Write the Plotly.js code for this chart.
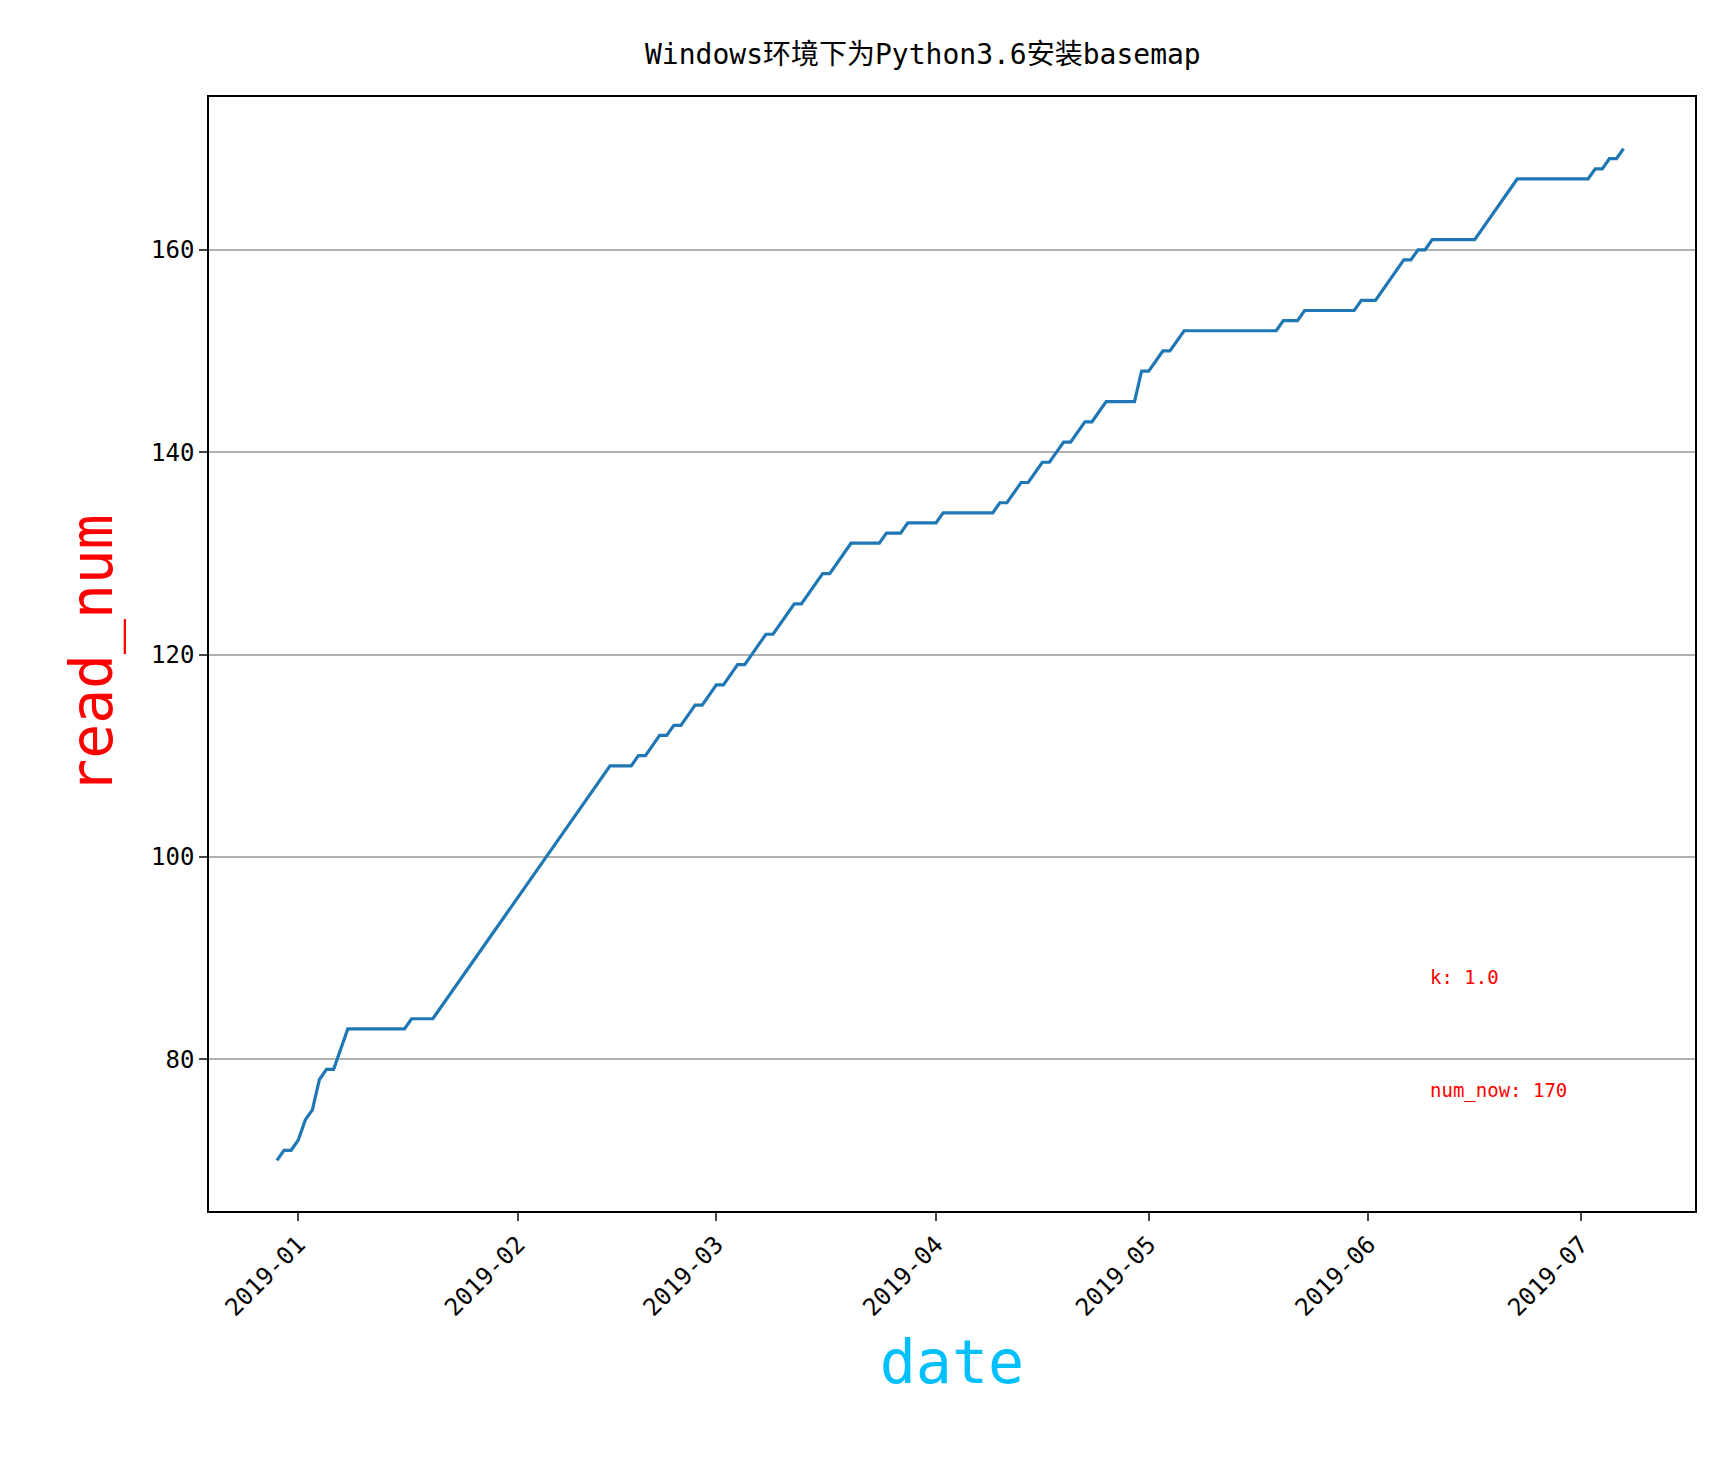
<!DOCTYPE html>
<html>
<head>
<meta charset="utf-8">
<script src="https://cdn.plot.ly/plotly-3.0.1.min.js"></script>
<style>body{margin:0;background:#fff}#chart{width:1725px;height:1477px}</style>
</head>
<body>
<div id="chart"></div>
<script>
// 阅读量 read_num 的转折点
const dates = [
  "2018-12-29","2018-12-30","2018-12-31","2019-01-01","2019-01-02","2019-01-03","2019-01-04",
  "2019-01-05","2019-01-06","2019-01-07","2019-01-08","2019-01-16","2019-01-17","2019-01-20",
  "2019-02-14","2019-02-17","2019-02-18","2019-02-19","2019-02-21","2019-02-22","2019-02-23",
  "2019-02-24","2019-02-26","2019-02-27","2019-03-01","2019-03-02","2019-03-04","2019-03-05",
  "2019-03-08","2019-03-09","2019-03-12","2019-03-13","2019-03-16","2019-03-17","2019-03-20",
  "2019-03-24","2019-03-25","2019-03-27","2019-03-28","2019-04-01","2019-04-02","2019-04-09",
  "2019-04-10","2019-04-11","2019-04-13","2019-04-14","2019-04-16","2019-04-17","2019-04-19",
  "2019-04-20","2019-04-22","2019-04-23","2019-04-25","2019-04-29","2019-04-30","2019-05-01",
  "2019-05-03","2019-05-04","2019-05-06","2019-05-19","2019-05-20","2019-05-22","2019-05-23",
  "2019-05-30","2019-05-31","2019-06-02","2019-06-06","2019-06-07","2019-06-08","2019-06-09",
  "2019-06-10","2019-06-16","2019-06-22","2019-07-02","2019-07-03","2019-07-04","2019-07-05",
  "2019-07-06","2019-07-07"
];
const readNum = [
  70,71,71,72,74,75,78,
  79,79,81,83,83,84,84,
  109,109,110,110,112,112,113,
  113,115,115,117,117,119,119,
  122,122,125,125,128,128,131,
  131,132,132,133,133,134,134,
  135,135,137,137,139,139,141,
  141,143,143,145,145,148,148,
  150,150,152,152,153,153,154,
  154,155,155,159,159,160,160,
  161,161,167,167,168,168,169,
  169,170
];
const kValue = "1.0";
const numNow = 170;

const trace = {
  x: dates, y: readNum, mode: "lines", type: "scatter",
  line: { color: "#1f77b4", width: 3.2 }, showlegend: false
};

const font = "'DejaVu Sans Mono', 'Noto Sans CJK SC', monospace";
const layout = {
  width: 1725, height: 1477,
  margin: { l: 209, r: 30, t: 97, b: 266 },
  paper_bgcolor: "#fff", plot_bgcolor: "#fff",
  font: { family: font, color: "#000" },
  title: { text: "Windows环境下为Python3.6安装basemap", font: { size: 28 }, x: 0.535, xanchor: "center", y: 0.963, yanchor: "middle" },
  xaxis: {
    type: "date", range: ["2018-12-19 10:00", "2019-07-17 02:00"],
    tickvals: ["2019-01-01","2019-02-01","2019-03-01","2019-04-01","2019-05-01","2019-06-01","2019-07-01"],
    ticktext: ["2019-01","2019-02","2019-03","2019-04","2019-05","2019-06","2019-07"],
    tickangle: -45, ticks: "outside", ticklen: 8, tickwidth: 1.5, tickfont: { size: 24 },
    showgrid: false, showline: true, linecolor: "#000", linewidth: 1.5, mirror: true, zeroline: false,
    title: { text: "date", font: { size: 60, color: "#00bfff" }, standoff: 20 }
  },
  yaxis: {
    range: [65, 175.1], tickvals: [80, 100, 120, 140, 160],
    ticks: "outside", ticklen: 8, tickwidth: 1.5, tickfont: { size: 24 },
    showgrid: true, gridcolor: "#b0b0b0", gridwidth: 1.5,
    showline: true, linecolor: "#000", linewidth: 1.5, mirror: true, zeroline: false,
    title: { text: "read_num", font: { size: 58, color: "#ff0000" }, standoff: 20 }
  },
  annotations: [
    { x: "2019-06-09 10:00", y: 88.1, xref: "x", yref: "y", text: "k: " + kValue, showarrow: false,
      xanchor: "left", yanchor: "middle", font: { size: 19, color: "#ff0000" } },
    { x: "2019-06-09 10:00", y: 76.9, xref: "x", yref: "y", text: "num_now: " + numNow, showarrow: false,
      xanchor: "left", yanchor: "middle", font: { size: 19, color: "#ff0000" } }
  ]
};

Plotly.newPlot("chart", [trace], layout, { displayModeBar: false });
</script>
</body>
</html>
